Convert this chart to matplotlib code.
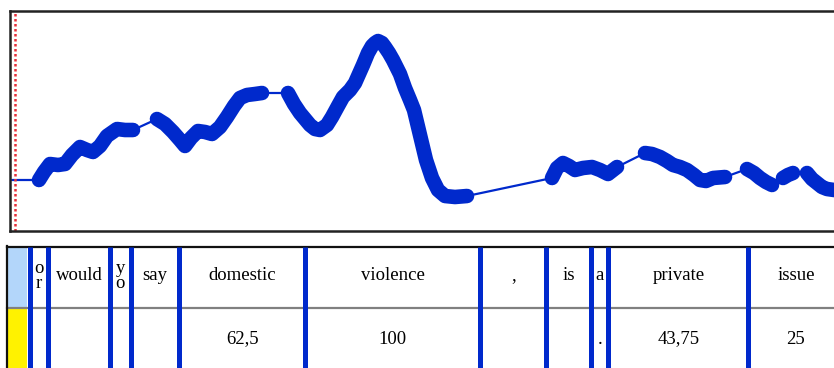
import numpy as np
import matplotlib
matplotlib.use("Agg")
import matplotlib.pyplot as plt
from matplotlib.patches import Rectangle

# Gaze trace: horizontal position (px) and vertical amplitude (px above axis bottom)
# fix_id = 0 marks a saccade sample (thin line only), >0 marks a fixation run
gaze_x = [12, 39, 44, 50, 58, 65, 72, 80, 87, 93, 100, 107, 117, 125, 133,
          157, 165, 173, 180, 185, 191, 198, 205, 212, 220, 227, 234, 240, 247, 255, 262,
          288, 294, 300, 310, 315, 320, 327, 332, 338, 343, 350, 355, 363, 368, 372, 375,
          378, 382, 385, 389, 393, 400, 405, 410, 414, 420, 426, 432, 438, 445, 455, 467,
          552, 557, 563, 569, 575, 583, 592, 600, 608, 617,
          645, 652, 660, 667, 673, 680, 687, 694, 700, 706, 713, 725,
          747, 754, 760, 766, 772,
          783, 788, 793,
          807, 812, 817, 822, 827, 834, 840]
gaze_y = [51, 51, 59, 67, 66, 67, 76, 84, 81, 79, 85, 95, 102, 101, 101,
          112, 107, 99, 91, 85, 93, 100, 99, 97, 104, 114, 125, 133, 136, 137, 138,
          138, 127, 118, 106, 102, 101, 106, 114, 125, 134, 141, 148, 166, 178, 185, 188,
          190, 188, 184, 178, 171, 157, 143, 131, 121, 96, 71, 53, 41, 35, 34, 35,
          53, 63, 68, 65, 61, 63, 64, 61, 57, 64,
          78, 77, 74, 70, 66, 64, 61, 56, 51, 50, 53, 54,
          62, 58, 53, 49, 46,
          53, 56, 58,
          58, 52, 48, 44, 42, 41, 41]
fix_id = [0] + [1] * 14 + [2] * 16 + [3] * 32 + [4] * 10 + [5] * 12 + [6] * 5 + [7] * 3 + [8] * 7

# Words of the sentence: onset position (px) and label, plus the value row
word_onsets = [29.8, 48.5, 110, 130.8, 179.2, 305.2, 479.8, 546.5, 591.2, 608.2, 748.5]
word_labels = ["o\nr", "would", "y\no", "say", "domestic", "violence", ",", "is", "a",
               "private", "issue"]
word_values = ["", "", "", "", "62,5", "100", "", "", ".", "43,75", "25"]

W, H = 834, 368
blue = "#0029cc"

fig = plt.figure(figsize=(W / 100, H / 100), dpi=100)

# ---- trace panel ----
ax = fig.add_axes([10 / W, (H - 231) / H, (W - 10) / W, 220 / H])
ax.set_xlim(10, W)
ax.set_ylim(0, 220)
ax.plot(gaze_x, gaze_y, color=blue, linewidth=1.6, solid_capstyle="round")
gx = np.array(gaze_x)
gy = np.array(gaze_y)
fid = np.array(fix_id)
for k in sorted(set(fix_id) - {0}):
    m = fid == k
    ax.plot(gx[m], gy[m], color=blue, linewidth=10.5, solid_capstyle="round",
            solid_joinstyle="round")
ax.axvline(14.7, color="#e8303a", linestyle=(0, (1, 1)), linewidth=1.8)
ax.set_xticks([])
ax.set_yticks([])
for s in ["top", "left", "bottom"]:
    ax.spines[s].set_linewidth(1.8)
    ax.spines[s].set_color("#222222")
ax.spines["right"].set_visible(False)

# ---- word table ----
tb = fig.add_axes([0, 0, 1, 1])
tb.set_xlim(0, W)
tb.set_ylim(H, 0)
tb.axis("off")
tb.add_patch(Rectangle((8, 247), 19.5, 61, facecolor="#b3d6fa", edgecolor="none"))
tb.add_patch(Rectangle((8, 309), 19.5, 60, facecolor="#fff200", edgecolor="none"))
tb.plot([7, W], [308, 308], color="#808080", linewidth=1.6)
tb.plot([7, W], [246.5, 246.5], color="#111111", linewidth=1.6)
tb.plot([7, 7], [246, H], color="#111111", linewidth=1.6)

edges = word_onsets + [W + 40]
for i, (lab, val) in enumerate(zip(word_labels, word_values)):
    x0 = edges[i]
    tb.plot([x0, x0], [247, H], color=blue, linewidth=3.6, solid_capstyle="butt")
    xc = (x0 + min(edges[i + 1], 900)) / 2
    if i == len(word_labels) - 1:
        xc = 796
    tb.text(xc, 276, lab, ha="center", va="center", fontsize=13.5,
            family="Liberation Serif", linespacing=0.8)
    if val:
        tb.text(xc, 339, val, ha="center", va="center", fontsize=13.5,
                family="Liberation Serif")

fig.savefig("out.png", dpi=100)
